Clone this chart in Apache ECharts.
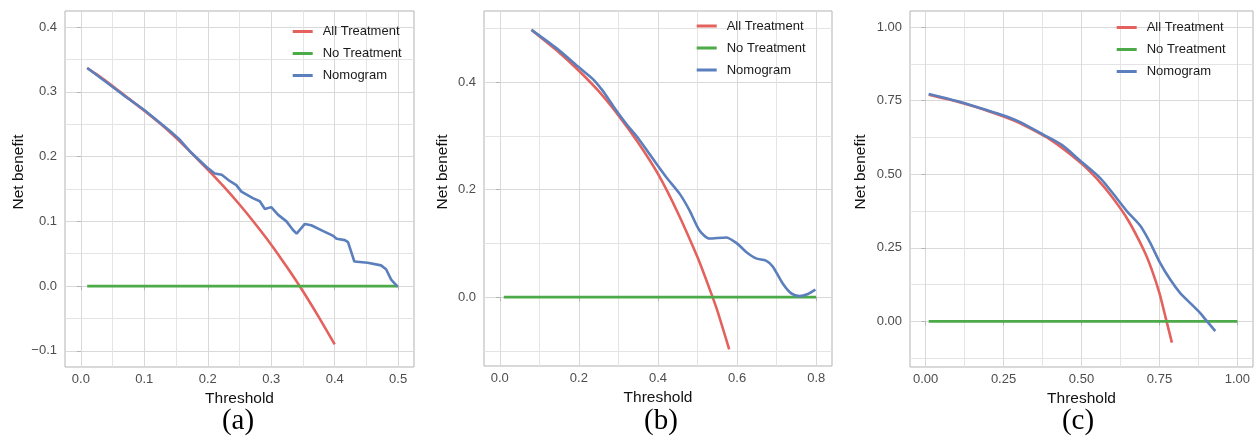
<!DOCTYPE html>
<html>
<head>
<meta charset="utf-8">
<script src="https://cdn.jsdelivr.net/npm/echarts@6/dist/echarts.min.js"></script>
<style>
html,body{margin:0;padding:0;background:#fff;}
#c{width:1255px;height:436px;}
</style>
</head>
<body>
<div id="c"></div>
<script>
// ---------- Panel (a) ----------
const aAllT  = [0.01,0.025,0.05,0.075,0.1,0.125,0.15,0.175,0.2,0.225,0.25,0.275,0.3,0.325,0.35,0.375,0.4];
const aAllNB = [0.337,0.327,0.309,0.290,0.271,0.251,0.229,0.205,0.180,0.154,0.126,0.096,0.064,0.029,-0.008,-0.048,-0.090];
const aNoneT  = [0.01,0.5];
const aNoneNB = [0,0];
const aNomoT  = [0.01,0.036,0.07,0.10,0.14,0.156,0.172,0.198,0.211,0.222,0.235,0.245,0.253,0.271,0.282,0.290,0.300,0.311,0.324,0.334,0.340,0.353,0.363,0.382,0.397,0.403,0.416,0.421,0.431,0.452,0.473,0.481,0.489,0.499];
const aNomoNB = [0.337,0.318,0.293,0.272,0.240,0.226,0.208,0.184,0.174,0.172,0.162,0.156,0.146,0.136,0.131,0.119,0.122,0.110,0.100,0.087,0.081,0.096,0.094,0.085,0.078,0.073,0.071,0.068,0.038,0.036,0.032,0.026,0.010,-0.001];
const aXTicks = [0,0.1,0.2,0.3,0.4,0.5];
const aXMinor = [0.05,0.15,0.25,0.35,0.45];
const aYTicks = [-0.1,0,0.1,0.2,0.3,0.4];
const aYMinor = [-0.05,0.05,0.15,0.25,0.35];

// ---------- Panel (b) ----------
const bAllT  = [0.08,0.1,0.15,0.2,0.25,0.3,0.35,0.4,0.45,0.5,0.525,0.55,0.58];
const bAllNB = [0.497,0.485,0.455,0.421,0.383,0.338,0.287,0.229,0.157,0.074,0.026,-0.025,-0.097];
const bNoneT  = [0.01,0.8];
const bNoneNB = [0,0];
const bNomoT  = [0.08,0.143,0.202,0.236,0.261,0.286,0.320,0.345,0.370,0.396,0.421,0.455,0.480,0.505,0.530,0.572,0.598,0.623,0.648,0.673,0.690,0.715,0.737,0.758,0.779,0.798];
const bNomoNB = [0.497,0.463,0.426,0.405,0.383,0.356,0.322,0.300,0.275,0.248,0.223,0.192,0.161,0.124,0.109,0.111,0.101,0.084,0.072,0.068,0.057,0.026,0.007,0.002,0.006,0.014];
const bXTicks = [0,0.2,0.4,0.6,0.8];
const bXMinor = [0.1,0.3,0.5,0.7];
const bYTicks = [0,0.2,0.4];
const bYMinor = [-0.1,0.1,0.3,0.5];

// ---------- Panel (c) ----------
const cAllT  = [0.01,0.1,0.2,0.3,0.4,0.5,0.55,0.6,0.65,0.7,0.725,0.75,0.77,0.79];
const cAllNB = [0.770,0.747,0.715,0.675,0.618,0.537,0.484,0.420,0.343,0.242,0.177,0.096,0.012,-0.072];
const cNoneT  = [0.01,1.0];
const cNoneNB = [0,0];
const cNomoT  = [0.01,0.1,0.2,0.25,0.3,0.379,0.438,0.496,0.560,0.603,0.646,0.688,0.720,0.752,0.784,0.816,0.848,0.880,0.902,0.929];
const cNomoNB = [0.773,0.749,0.717,0.700,0.679,0.634,0.599,0.546,0.487,0.432,0.374,0.326,0.268,0.199,0.143,0.097,0.063,0.029,0.001,-0.033];
const cXTicks = [0,0.25,0.5,0.75,1.0];
const cXMinor = [0.125,0.375,0.625,0.875];
const cYTicks = [0,0.25,0.5,0.75,1.0];
const cYMinor = [-0.125,0.125,0.375,0.625,0.875];

const seriesNames = ['All Treatment','No Treatment','Nomogram'];
const panelLabels = ['(a)','(b)','(c)'];
const xTitle = 'Threshold';
const yTitle = 'Net benefit';

// ---------- layout / styling ----------
const COLORS = {'All Treatment':'#E3625D','No Treatment':'#4DAA48','Nomogram':'#5B7FBD'};
const FONT = '"Liberation Sans", Arial, Helvetica, sans-serif';
const panels = [
  {grid:{left:65,top:11,width:349,height:356}, xr:[-0.025,0.525], yr:[-0.125,0.425], xd:1, yd:1,
   xt:aXTicks, xm:aXMinor, yt:aYTicks, ym:aYMinor,
   data:[[aAllT,aAllNB],[aNoneT,aNoneNB],[aNomoT,aNomoNB]], smoothNomo:false,
   legend:{left:292.7, top:25}, ytitleX:19, labelX:238},
  {grid:{left:484,top:11,width:348,height:355}, xr:[-0.04,0.84], yr:[-0.128,0.532], xd:1, yd:1,
   xt:bXTicks, xm:bXMinor, yt:bYTicks, ym:bYMinor,
   data:[[bAllT,bAllNB],[bNoneT,bNoneNB],[bNomoT,bNomoNB]], smoothNomo:true,
   legend:{left:696.7, top:19.5}, ytitleX:443, labelX:661},
  {grid:{left:910,top:11,width:343,height:356}, xr:[-0.05,1.05], yr:[-0.155,1.055], xd:2, yd:2,
   xt:cXTicks, xm:cXMinor, yt:cYTicks, ym:cYMinor,
   data:[[cAllT,cAllNB],[cNoneT,cNoneNB],[cNomoT,cNomoNB]], smoothNomo:true,
   legend:{left:1116.7, top:21}, ytitleX:861, labelX:1078}
];

function fmt(d){ return v => v.toFixed(d).replace('-', '\u2212'); }
function pairs(t, v){ return t.map((x,i)=>[x, v[i]]); }

const grid=[], xAxis=[], yAxis=[], series=[], legend=[], graphic=[];
panels.forEach((p, i) => {
  grid.push(Object.assign({show:true, borderColor:'#B3B3B3', borderWidth:1, backgroundColor:'#fff'}, p.grid));
  xAxis.push({type:'value', gridIndex:i, min:p.xr[0], max:p.xr[1], position:'bottom',
    name:xTitle, nameLocation:'middle', nameGap:19,
    nameTextStyle:{fontFamily:FONT, fontSize:15.5, color:'#111'},
    axisLine:{show:false},
    axisTick:{show:true, length:4, lineStyle:{color:'#B3B3B3'}, customValues:p.xt},
    axisLabel:{customValues:p.xt, formatter:fmt(p.xd), margin:6, fontFamily:FONT, fontSize:13, color:'#4D4D4D'},
    splitLine:{show:true, lineStyle:{color:'#D9D9D9', width:1}}
  });
  xAxis.push({type:'value', gridIndex:i, min:p.xr[0], max:p.xr[1], position:'top',
    axisLine:{show:false}, axisLabel:{show:false},
    axisTick:{show:false, customValues:p.xm},
    splitLine:{show:true, lineStyle:{color:'#E4E4E4', width:1}}
  });
  yAxis.push({type:'value', gridIndex:i, min:p.yr[0], max:p.yr[1], position:'left',
    axisLine:{show:false},
    axisTick:{show:true, length:4, lineStyle:{color:'#B3B3B3'}, customValues:p.yt},
    axisLabel:{customValues:p.yt, formatter:fmt(p.yd), margin:8, fontFamily:FONT, fontSize:13, color:'#4D4D4D'},
    splitLine:{show:true, lineStyle:{color:'#D9D9D9', width:1}}
  });
  yAxis.push({type:'value', gridIndex:i, min:p.yr[0], max:p.yr[1], position:'right',
    axisLine:{show:false}, axisLabel:{show:false},
    axisTick:{show:false, customValues:p.ym},
    splitLine:{show:true, lineStyle:{color:'#E4E4E4', width:1}}
  });
  seriesNames.forEach((nm, k) => {
    const d = p.data[k];
    series.push({type:'line', name:nm, xAxisIndex:2*i, yAxisIndex:2*i,
      data:pairs(d[0], d[1]), showSymbol:false, symbol:'none',
      smooth: k===1 ? false : (k===2 ? (p.smoothNomo ? 0.25 : false) : 0.2),
      color:COLORS[nm], lineStyle:{color:COLORS[nm], width:2.6}, z:2+k
    });
  });
  legend.push({left:p.legend.left, top:p.legend.top, orient:'vertical', padding:0, itemGap:9,
    icon:'rect', itemWidth:20, itemHeight:3, selectedMode:false, data:seriesNames,
    textStyle:{fontFamily:FONT, fontSize:13, color:'#1A1A1A', padding:[0,0,0,5]}});
  graphic.push({type:'text', x:p.ytitleX, y:172, rotation:Math.PI/2,
    style:{text:yTitle, font:'15.5px ' + FONT, fill:'#111', align:'center', verticalAlign:'middle'}});
  graphic.push({type:'text', x:p.labelX, y:421,
    style:{text:panelLabels[i], font:'29px "Liberation Serif", "Times New Roman", serif', fill:'#000', align:'center', verticalAlign:'middle'}});
});

const chart = echarts.init(document.getElementById('c'), null, {renderer:'canvas'});
chart.setOption({animation:false, backgroundColor:'#fff', grid, xAxis, yAxis, series, legend, graphic});
</script>
</body>
</html>
